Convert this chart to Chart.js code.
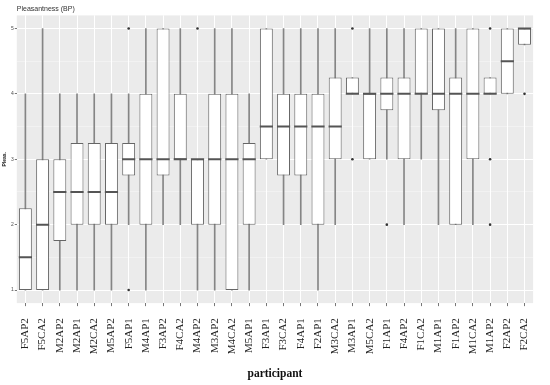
<!DOCTYPE html>
<html lang="en">
<head>
    <meta charset="UTF-8">
    <title>Pleasantness (BP)</title>
    <script src="https://cdn.jsdelivr.net/npm/chart.js"></script>
    <style>
        body { margin: 0; background: #ffffff; }
        canvas { display: block; }
    </style>
</head>
<body>
    <canvas id="boxChart" width="550" height="385"></canvas>

    <script>
        // participants in plotted order
        const participants = ['F5AP2', 'F5CA2', 'M2AP2', 'M2AP1', 'M2CA2', 'M5AP2', 'F5AP1', 'M4AP1', 'F3AP2', 'F4CA2',
            'M4AP2', 'M3AP2', 'M4CA2', 'M5AP1', 'F3AP1', 'F3CA2', 'F4AP1', 'F2AP1', 'M3CA2', 'M3AP1',
            'M5CA2', 'F1AP1', 'F4AP2', 'F1CA2', 'M1AP1', 'F1AP2', 'M1CA2', 'M1AP2', 'F2AP2', 'F2CA2'];

        // box plot statistics per participant
        const whiskerLow  = [1, 1, 1, 1, 1, 1, 2, 1, 2, 2,   1, 1, 1, 1, 3, 2, 2, 1, 2, 4,      3, 3, 2, 3, 2, 2, 2, 4, 4, 4.75];
        const q1          = [1, 1, 1.75, 2, 2, 2, 2.75, 2, 2.75, 3,   2, 2, 1, 2, 3, 2.75, 2.75, 2, 3, 4,   3, 3.75, 3, 4, 3.75, 2, 3, 4, 4, 4.75];
        const medians     = [1.5, 2, 2.5, 2.5, 2.5, 2.5, 3, 3, 3, 3,   3, 3, 3, 3, 3.5, 3.5, 3.5, 3.5, 3.5, 4,   4, 4, 4, 4, 4, 4, 4, 4, 4.5, 5];
        const q3          = [2.25, 3, 3, 3.25, 3.25, 3.25, 3.25, 4, 5, 4,   3, 4, 4, 3.25, 5, 4, 4, 4, 4.25, 4.25,   4, 4.25, 4.25, 5, 5, 4.25, 5, 4.25, 5, 5];
        const whiskerHigh = [4, 5, 4, 4, 4, 4, 4, 5, 5, 5,   3, 5, 5, 4, 5, 5, 5, 5, 5, 4.25,   5, 5, 5, 5, 5, 5, 5, 4.25, 5, 5];

        // outliers
        const outlierParticipants = ['F5AP1', 'F5AP1', 'M4AP2', 'M3AP1', 'M3AP1', 'F1AP1', 'M1AP2', 'M1AP2', 'M1AP2', 'F2CA2'];
        const outlierValues       = [5, 1, 5, 5, 3, 2, 5, 3, 2, 4];

        const yTicks = [1, 1.5, 2, 2.5, 3, 3.5, 4, 4.5, 5];

        const lineColor = '#666666';

        // grey panel behind the grid, like ggplot
        const panelBackground = {
            id: 'panelBackground',
            beforeDraw(chart) {
                const { ctx, chartArea } = chart;
                ctx.save();
                ctx.fillStyle = '#ebebeb';
                ctx.fillRect(chartArea.left, chartArea.top, chartArea.right - chartArea.left, chartArea.bottom - chartArea.top);
                ctx.restore();
            }
        };

        const ctx = document.getElementById('boxChart').getContext('2d');
        new Chart(ctx, {
            data: {
                labels: participants,
                datasets: [
                    {
                        type: 'line',
                        label: 'outliers',
                        data: outlierParticipants.map((p, i) => ({ x: p, y: outlierValues[i] })),
                        showLine: false,
                        pointRadius: 1.3,
                        pointHoverRadius: 1.3,
                        pointBackgroundColor: '#333333',
                        pointBorderWidth: 0
                    },
                    {
                        type: 'line',
                        label: 'median',
                        data: medians,
                        showLine: false,
                        pointStyle: 'line',
                        pointRadius: 6.6,
                        pointHoverRadius: 6.6,
                        pointBorderColor: '#555555',
                        pointBorderWidth: 2
                    },
                    {
                        type: 'bar',
                        label: 'box',
                        data: q1.map((v, i) => [v, q3[i]]),
                        backgroundColor: '#ffffff',
                        borderColor: lineColor,
                        borderWidth: 1,
                        borderSkipped: false,
                        grouped: false,
                        barPercentage: 0.75,
                        categoryPercentage: 1
                    },
                    {
                        type: 'bar',
                        label: 'whisker',
                        data: whiskerLow.map((v, i) => [v, whiskerHigh[i]]),
                        backgroundColor: '#858585',
                        borderWidth: 0,
                        grouped: false,
                        barThickness: 1
                    }
                ]
            },
            options: {
                responsive: false,
                animation: false,
                events: [],
                layout: { padding: { left: 0, right: 1, bottom: 2, top: 2 } },
                plugins: {
                    legend: { display: false },
                    tooltip: { enabled: false },
                    title: {
                        display: true,
                        text: 'Pleasantness (BP)',
                        align: 'start',
                        fullSize: false,
                        color: '#333333',
                        font: { family: 'Liberation Sans', size: 7, weight: 'normal' },
                        padding: { top: 3, bottom: 2 }
                    }
                },
                scales: {
                    x: {
                        offset: true,
                        border: { display: false },
                        grid: {
                            offset: false,
                            color: '#ffffff',
                            lineWidth: 1,
                            tickColor: '#777777',
                            tickLength: 3
                        },
                        ticks: {
                            autoSkip: false,
                            minRotation: 90,
                            maxRotation: 90,
                            padding: 12,
                            color: '#222222',
                            font: { family: 'Liberation Serif', size: 11 }
                        },
                        title: {
                            display: true,
                            text: 'participant',
                            color: '#111111',
                            font: { family: 'Liberation Serif', size: 11.5, weight: 'bold' },
                            padding: { top: 1, bottom: 2 }
                        }
                    },
                    y: {
                        min: 0.8,
                        max: 5.2,
                        border: { display: false },
                        afterBuildTicks(scale) {
                            scale.ticks = yTicks.map(v => ({ value: v }));
                        },
                        grid: {
                            color: c => Number.isInteger(c.tick.value) ? '#ffffff' : 'rgba(255,255,255,0.7)',
                            lineWidth: c => Number.isInteger(c.tick.value) ? 1 : 0.5,
                            tickColor: c => Number.isInteger(c.tick.value) ? '#777777' : 'rgba(0,0,0,0)',
                            tickLength: 2
                        },
                        ticks: {
                            padding: 1,
                            color: '#4d4d4d',
                            font: { family: 'Liberation Sans', size: 5 },
                            callback: v => Number.isInteger(v) ? v : ''
                        },
                        title: {
                            display: true,
                            text: 'Pleas.',
                            color: '#111111',
                            font: { family: 'Liberation Sans', size: 5, weight: 'bold' },
                            padding: { top: 2, bottom: 2 }
                        }
                    }
                }
            },
            plugins: [panelBackground]
        });
    </script>
</body>
</html>
